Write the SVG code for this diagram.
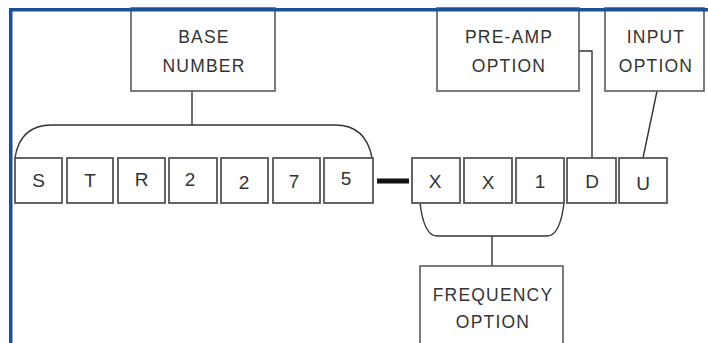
<svg xmlns="http://www.w3.org/2000/svg" width="708" height="343" viewBox="0 0 708 343">
<style>
.box{fill:#fff;stroke:#5a5a5a;stroke-width:1.6}
.cell{fill:#fff;stroke:#555;stroke-width:1.8}
.lbl{font-family:"Liberation Sans",Arial,sans-serif;font-size:17.5px;fill:#333;text-anchor:middle;letter-spacing:1.2px}
.ch{font-family:"Liberation Sans",Arial,sans-serif;font-size:19px;fill:#333;text-anchor:middle}
.con{fill:none;stroke:#333;stroke-width:1.4}
</style>
<rect width="708" height="343" fill="#fff"/>
<g id="connectors">
<line class="con" x1="192" y1="91" x2="192" y2="125"/>
<path class="con" d="M15,158 Q20,125 52,125 H335 Q366,125 372,158"/>
<path class="con" d="M579,51 H592 V158"/>
<line class="con" x1="657" y1="91" x2="643" y2="158"/>
<path class="con" d="M420,203 Q424,236 437,236 H547 Q560,236 564,203"/>
<line class="con" x1="492" y1="236" x2="492" y2="266"/>
<rect x="377" y="178.5" width="32" height="5" fill="#111"/>
</g>
<g id="base-number">
<rect class="box" x="131" y="8" width="144" height="83"/>
<text class="lbl" x="204" y="43">BASE</text>
<text class="lbl" x="204" y="72">NUMBER</text>
</g>
<g id="preamp-option">
<rect class="box" x="437" y="8" width="142" height="83"/>
<text class="lbl" x="509" y="43">PRE-AMP</text>
<text class="lbl" x="509" y="72">OPTION</text>
</g>
<g id="input-option">
<rect class="box" x="605" y="8" width="99" height="83"/>
<text class="lbl" x="656" y="43">INPUT</text>
<text class="lbl" x="656" y="72">OPTION</text>
</g>
<g id="frequency-option">
<rect class="box" x="420" y="266" width="143" height="90"/>
<text class="lbl" x="493" y="301">FREQUENCY</text>
<text class="lbl" x="493" y="328">OPTION</text>
</g>
<g id="cell-s"><rect class="cell" x="15" y="158" width="47" height="45"/><text class="ch" x="38.5" y="187">S</text></g>
<g id="cell-t"><rect class="cell" x="67" y="158" width="46" height="45"/><text class="ch" x="90" y="187">T</text></g>
<g id="cell-r"><rect class="cell" x="118" y="158" width="47" height="45"/><text class="ch" x="141.5" y="186">R</text></g>
<g id="cell-2a"><rect class="cell" x="169" y="158" width="48" height="45"/><text class="ch" x="190" y="186">2</text></g>
<g id="cell-2b"><rect class="cell" x="221" y="158" width="47" height="45"/><text class="ch" x="244" y="189">2</text></g>
<g id="cell-7"><rect class="cell" x="273" y="158" width="47" height="45"/><text class="ch" x="294" y="188">7</text></g>
<g id="cell-5"><rect class="cell" x="324" y="158" width="49" height="45"/><text class="ch" x="346" y="185">5</text></g>
<g id="cell-x1"><rect class="cell" x="412" y="158" width="48" height="45"/><text class="ch" x="435" y="188">X</text></g>
<g id="cell-x2"><rect class="cell" x="464" y="158" width="48" height="45"/><text class="ch" x="488" y="189">X</text></g>
<g id="cell-1"><rect class="cell" x="516" y="158" width="48" height="45"/><text class="ch" x="540" y="188">1</text></g>
<g id="cell-d"><rect class="cell" x="567" y="158" width="49" height="45"/><text class="ch" x="592" y="188">D</text></g>
<g id="cell-u"><rect class="cell" x="619" y="158" width="48" height="45"/><text class="ch" x="643" y="190">U</text></g>
<g id="frame">
<rect x="9" y="8" width="699" height="3.5" fill="#1b4f9b"/>
<rect x="9" y="8" width="3.5" height="335" fill="#1b4f9b"/>
</g>
</svg>
